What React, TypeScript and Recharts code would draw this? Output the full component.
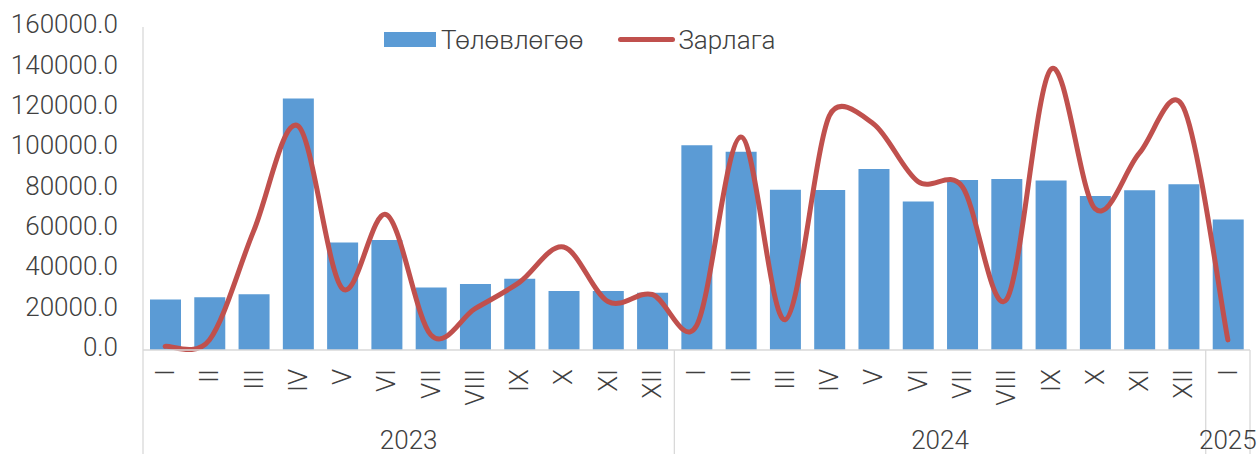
import { ComposedChart, Bar, Line, XAxis, YAxis } from "recharts";

const years = ["2023", "2024", "2025"];
const months = ["I", "II", "III", "IV", "V", "VI", "VII", "VIII", "IX", "X", "XI", "XII"];
const monthCounts = [12, 12, 1];

// Төлөвлөгөө (bars)
const plan = [
  25000, 26100, 27600, 124600, 53300, 54500, 31000, 32700, 35300, 29200, 29200, 28400,
  101400, 98200, 79400, 79200, 89600, 73600, 84200, 84700, 84000, 76300, 79100, 82100,
  64700,
];
// Зарлага (line)
const spend = [
  1800, 5000, 59000, 111000, 30500, 67000, 7500, 20500, 33500, 51000, 24000, 27500,
  12000, 105500, 15000, 116000, 112000, 83500, 81000, 25000, 139000, 70000, 97500, 120000,
  5000,
];
const yTicks = [0, 20000, 40000, 60000, 80000, 100000, 120000, 140000, 160000];

const labels: { key: string; month: string; year: string; first: boolean }[] = [];
years.forEach((yr, yi) => {
  for (let m = 0; m < monthCounts[yi]; m++) {
    labels.push({ key: `${yr}-${months[m]}`, month: months[m], year: yr, first: m === 0 });
  }
});

const data = labels.map((l, i) => ({ key: l.key, plan: plan[i], spend: spend[i] }));

const FONT = "Roboto, sans-serif";
const TEXT = "#404040";
const GRID = "#D9D9D9";

const dist = (a: [number, number], b: [number, number]) => Math.hypot(b[0] - a[0], b[1] - a[1]);

// Excel-style smoothed line: cubic beziers, tangent (P2-P0)/6 capped at half the segment
const excelSmooth = (context: any) => {
  let pts: [number, number][] = [];
  return {
    areaStart() {},
    areaEnd() {},
    lineStart() {
      pts = [];
    },
    lineEnd() {
      const n = pts.length;
      if (!n) return;
      context.moveTo(pts[0][0], pts[0][1]);
      for (let i = 0; i < n - 1; i++) {
        const p0 = pts[Math.max(i - 1, 0)];
        const p1 = pts[i];
        const p2 = pts[i + 1];
        const p3 = pts[Math.min(i + 2, n - 1)];
        const d12 = dist(p1, p2);
        const d02 = dist(p0, p2);
        const d13 = dist(p1, p3);
        const b1 = d02 / 6 < d12 / 2 ? 1 / 6 : d12 / (2 * d02);
        const b2 = d13 / 6 < d12 / 2 ? 1 / 6 : d12 / (2 * d13);
        context.bezierCurveTo(
          p1[0] + b1 * (p2[0] - p0[0]),
          p1[1] + b1 * (p2[1] - p0[1]),
          p2[0] - b2 * (p3[0] - p1[0]),
          p2[1] - b2 * (p3[1] - p1[1]),
          p2[0],
          p2[1]
        );
      }
    },
    point(x: number, y: number) {
      pts.push([+x, +y]);
    },
  };
};

const MonthTick = (props: any) => {
  const { x, y, payload } = props;
  const i = payload.index;
  const half = payload.offset ?? 22;
  const l = labels[i];
  if (!l) return null;
  const groupStart = labels.findIndex((d) => d.year === l.year);
  const groupSize = labels.filter((d) => d.year === l.year).length;
  const mid = groupStart + groupSize / 2;
  let yearX: number | null = null;
  if (groupSize % 2 === 0 && i === mid) yearX = x - half;
  if (groupSize % 2 === 1 && i === Math.floor(mid)) yearX = x;
  return (
    <g>
      {l.first && <line x1={x - half} x2={x - half} y1={y} y2={y + 104} stroke={GRID} strokeWidth={1.3} />}
      {i === labels.length - 1 && (
        <line x1={x + half} x2={x + half} y1={y} y2={y + 104} stroke={GRID} strokeWidth={1.3} />
      )}
      <text
        x={x}
        y={y + 19}
        transform={`rotate(-90, ${x}, ${y + 19})`}
        textAnchor="end"
        dy="0.34em"
        fontFamily={FONT}
        fontWeight={300}
        fontSize={26}
        fill={TEXT}
      >
        {l.month}
      </text>
      {yearX !== null && (
        <text x={yearX} y={y + 99} textAnchor="middle" fontFamily={FONT} fontWeight={300} fontSize={26} fill={TEXT}>
          {l.year}
        </text>
      )}
    </g>
  );
};

const App = () => {
  return (
    <div style={{ position: "absolute", left: 0, top: 0, width: 1259, height: 454, background: "#fff" }}>
      <ComposedChart
        width={1259}
        height={454}
        data={data}
        margin={{ top: 27, right: 9, bottom: 0, left: 0 }}
      >
        <XAxis
          dataKey="key"
          height={104}
          interval={0}
          tickLine={false}
          tickSize={0}
          tickMargin={0}
          axisLine={{ stroke: GRID, strokeWidth: 1.3 }}
          tick={<MonthTick />}
        />
        <YAxis
          width={143}
          domain={[0, 160000]}
          ticks={yTicks}
          interval={0}
          tickLine={false}
          tickSize={0}
          tickMargin={25}
          axisLine={{ stroke: GRID, strokeWidth: 1.3 }}
          tickFormatter={(v: number) => v.toFixed(1)}
          tick={{ fontFamily: FONT, fontWeight: 300, fontSize: 26, fill: TEXT, dy: -3 }}
        />
        <Bar dataKey="plan" fill="#5B9BD5" barSize={31} isAnimationActive={false} />
        <Line
          dataKey="spend"
          type={excelSmooth as any}
          stroke="#C0504D"
          strokeWidth={5}
          strokeLinecap="round"
          dot={false}
          activeDot={false}
          isAnimationActive={false}
        />
      </ComposedChart>
      <div
        style={{
          position: "absolute",
          left: 384,
          top: 26,
          height: 27,
          display: "flex",
          alignItems: "center",
          fontFamily: FONT,
          fontWeight: 300,
          fontSize: 26,
          color: TEXT,
          whiteSpace: "nowrap",
        }}
      >
        <span style={{ display: "inline-block", width: 52, height: 15, background: "#5B9BD5", marginRight: 5 }} />
        <span>Төлөвлөгөө</span>
        <span
          style={{
            display: "inline-block",
            width: 57,
            height: 5,
            borderRadius: 3,
            background: "#C0504D",
            marginLeft: 35,
            marginRight: 3,
          }}
        />
        <span>Зарлага</span>
      </div>
    </div>
  );
};

export default App;
